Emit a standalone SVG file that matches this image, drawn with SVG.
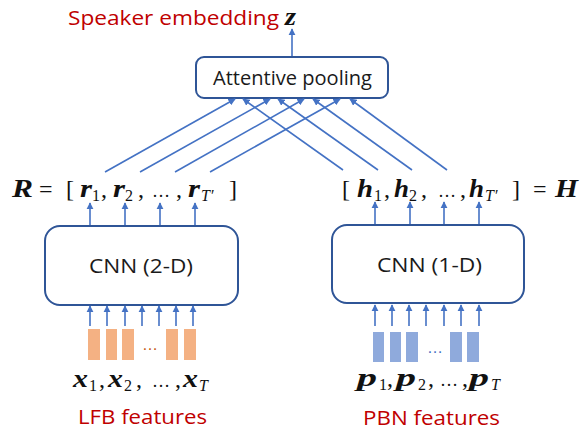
<svg xmlns="http://www.w3.org/2000/svg" width="587" height="431" viewBox="0 0 587 431">
<style>
.box{fill:#fff;stroke:#2F5597;stroke-width:2}
.lbl{font-family:"Open Sans","Liberation Sans",sans-serif;fill:#1a1a1a;font-size:20px}
.red{font-family:"Open Sans","Liberation Sans",sans-serif;fill:#C00000;font-size:20px}
.m{font-family:"Liberation Serif","DejaVu Serif",serif;fill:#111;font-size:24px}
.bi{font-weight:bold;font-style:italic;font-size:26px}
.s{font-size:16px}
.si{font-size:16px;font-style:italic}
.el{font-size:18px}
.con line{stroke:#4472C4;stroke-width:1.6;marker-end:url(#ah)}
.ob{fill:#F4B183}
.bb{fill:#8FAADC}
</style>
<defs>
<marker id="ah" viewBox="0 0 10 10" refX="9" refY="5" markerWidth="4.5" markerHeight="4.5" orient="auto" markerUnits="strokeWidth">
<path d="M0,0 L10,5 L0,10 z" fill="#4472C4"/>
</marker>
</defs>

<text class="red" x="68" y="25" textLength="211" lengthAdjust="spacingAndGlyphs">Speaker embedding</text>
<text class="m bi" x="285" y="25" textLength="11" lengthAdjust="spacingAndGlyphs">z</text>

<g id="pool">
<rect class="box" x="196" y="57" width="192" height="41" rx="8"/>
<text class="lbl" x="213" y="85" textLength="159" lengthAdjust="spacingAndGlyphs">Attentive pooling</text>
</g>

<g id="cnn2d">
<rect class="box" x="45" y="226" width="193" height="79" rx="15"/>
<text class="lbl" x="89" y="273" textLength="104" lengthAdjust="spacingAndGlyphs">CNN (2-D)</text>
</g>

<g id="cnn1d">
<rect class="box" x="332" y="225" width="192" height="78" rx="15"/>
<text class="lbl" x="377" y="272" textLength="105" lengthAdjust="spacingAndGlyphs">CNN (1-D)</text>
</g>

<g id="R" class="m">
<text class="bi" x="12" y="197" textLength="21" lengthAdjust="spacingAndGlyphs">R</text>
<text x="39" y="197">=</text>
<text x="66" y="197">[</text>
<text class="bi" x="80" y="197" textLength="12" lengthAdjust="spacingAndGlyphs">r</text>
<text class="s" x="92" y="201">1</text>
<text x="101" y="197">,</text>
<text class="bi" x="113" y="197" textLength="12" lengthAdjust="spacingAndGlyphs">r</text>
<text class="s" x="125" y="201">2</text>
<text x="138" y="197">,</text>
<text class="el" x="152" y="197">…</text>
<text x="176" y="197">,</text>
<text class="bi" x="188" y="197" textLength="12" lengthAdjust="spacingAndGlyphs">r</text>
<text class="si" x="201" y="201">T′</text>
<text x="229" y="197">]</text>
</g>

<g id="H" class="m">
<text x="342" y="197">[</text>
<text class="bi" x="357" y="197" textLength="16" lengthAdjust="spacingAndGlyphs">h</text>
<text class="s" x="374" y="201">1</text>
<text x="384" y="197">,</text>
<text class="bi" x="394" y="197" textLength="15" lengthAdjust="spacingAndGlyphs">h</text>
<text class="s" x="409" y="201">2</text>
<text x="421" y="197">,</text>
<text class="el" x="438" y="197">…</text>
<text x="460" y="197">,</text>
<text class="bi" x="469" y="197" textLength="15" lengthAdjust="spacingAndGlyphs">h</text>
<text class="si" x="485" y="201">T′</text>
<text x="512" y="197">]</text>
<text x="533" y="197">=</text>
<text class="bi" x="555" y="197" textLength="23" lengthAdjust="spacingAndGlyphs">H</text>
</g>

<g id="lfb">
<rect class="ob" x="88" y="329" width="12" height="31"/>
<rect class="ob" x="106" y="329" width="11" height="31"/>
<rect class="ob" x="122" y="329" width="12" height="31"/>
<text x="150" y="350" font-family="Liberation Sans,sans-serif" font-size="16" fill="#C55A11" text-anchor="middle">…</text>
<rect class="ob" x="166" y="329" width="12" height="31"/>
<rect class="ob" x="184" y="329" width="12" height="31"/>
<g class="m">
<text class="bi" x="73" y="387" textLength="15" lengthAdjust="spacingAndGlyphs">x</text>
<text class="s" x="89" y="391">1</text>
<text x="99" y="387">,</text>
<text class="bi" x="108" y="387" textLength="15" lengthAdjust="spacingAndGlyphs">x</text>
<text class="s" x="124" y="391">2</text>
<text x="136" y="387">,</text>
<text class="el" x="152" y="387">…</text>
<text x="175" y="387">,</text>
<text class="bi" x="183" y="387" textLength="15" lengthAdjust="spacingAndGlyphs">x</text>
<text class="si" x="199" y="391">T</text>
</g>
<text class="red" x="78" y="424" textLength="129" lengthAdjust="spacingAndGlyphs">LFB features</text>
</g>

<g id="pbn">
<rect class="bb" x="373" y="332" width="11" height="30"/>
<rect class="bb" x="390" y="332" width="11" height="30"/>
<rect class="bb" x="406" y="332" width="12" height="30"/>
<text x="435" y="353" font-family="Liberation Sans,sans-serif" font-size="16" fill="#4472C4" text-anchor="middle">…</text>
<rect class="bb" x="450" y="332" width="12" height="30"/>
<rect class="bb" x="467" y="332" width="12" height="30"/>
<g class="m">
<text class="bi" x="357" y="386" textLength="20" lengthAdjust="spacingAndGlyphs">p</text>
<text class="s" x="379" y="390">1</text>
<text x="387" y="386">,</text>
<text class="bi" x="396" y="386" textLength="20" lengthAdjust="spacingAndGlyphs">p</text>
<text class="s" x="418" y="390">2</text>
<text x="428" y="386">,</text>
<text class="el" x="440" y="386">…</text>
<text x="462" y="386">,</text>
<text class="bi" x="469" y="386" textLength="20" lengthAdjust="spacingAndGlyphs">p</text>
<text class="si" x="491" y="390">T</text>
</g>
<text class="red" x="363" y="425" textLength="137" lengthAdjust="spacingAndGlyphs">PBN features</text>
</g>

<g id="connectors" class="con">
<line x1="292" y1="56" x2="292" y2="29"/>
<line x1="105" y1="172" x2="235" y2="99"/>
<line x1="140" y1="172" x2="270" y2="99"/>
<line x1="175" y1="172" x2="304" y2="99"/>
<line x1="210" y1="172" x2="340" y2="99"/>
<line x1="343" y1="170" x2="243" y2="99"/>
<line x1="378" y1="170" x2="278" y2="99"/>
<line x1="412" y1="170" x2="313" y2="99"/>
<line x1="447" y1="170" x2="350" y2="99"/>
<line x1="90" y1="225" x2="90" y2="203"/>
<line x1="125" y1="225" x2="125" y2="203"/>
<line x1="160" y1="225" x2="160" y2="203"/>
<line x1="195" y1="225" x2="195" y2="203"/>
<line x1="375" y1="224" x2="375" y2="202"/>
<line x1="410" y1="224" x2="410" y2="202"/>
<line x1="444" y1="224" x2="444" y2="202"/>
<line x1="479" y1="224" x2="479" y2="202"/>
<line x1="90" y1="326" x2="90" y2="306"/>
<line x1="107" y1="326" x2="107" y2="306"/>
<line x1="125" y1="326" x2="125" y2="306"/>
<line x1="142" y1="326" x2="142" y2="306"/>
<line x1="159" y1="326" x2="159" y2="306"/>
<line x1="176" y1="326" x2="176" y2="306"/>
<line x1="193" y1="326" x2="193" y2="306"/>
<line x1="375" y1="326" x2="375" y2="305"/>
<line x1="392" y1="326" x2="392" y2="305"/>
<line x1="409" y1="326" x2="409" y2="305"/>
<line x1="426" y1="326" x2="426" y2="305"/>
<line x1="444" y1="326" x2="444" y2="305"/>
<line x1="461" y1="326" x2="461" y2="305"/>
<line x1="479" y1="326" x2="479" y2="305"/>
</g>
</svg>
